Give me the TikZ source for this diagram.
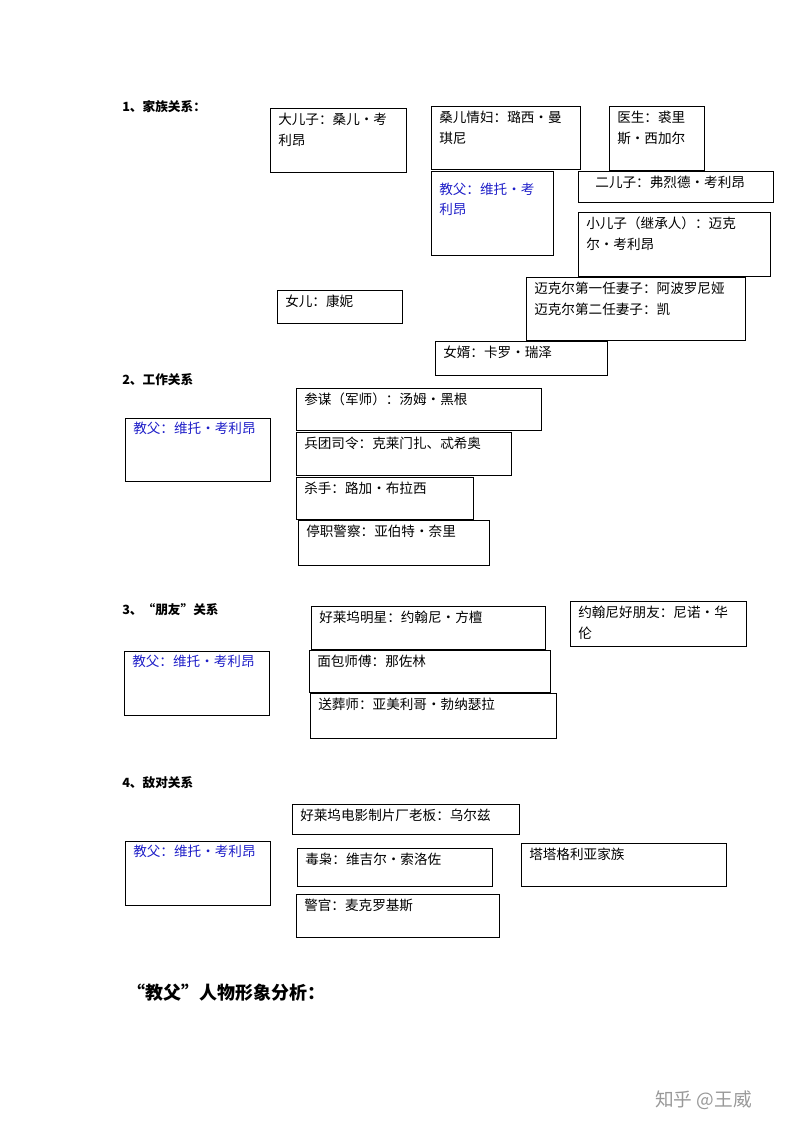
\documentclass[tikz,border=0pt]{standalone}
\usepackage{fontspec}
\setmainfont{Noto Sans CJK SC}
\begin{document}
\begin{tikzpicture}[x=0.75pt,y=-0.75pt,
  frame/.style={draw=black,line width=0.6pt},
  txt/.style={anchor=north west,inner sep=0pt,align=left,font=\fontsize{10.2pt}{15.5pt}\selectfont},
  gf/.style={txt,text={rgb,255:red,30;green,30;blue,200}},
  sec/.style={anchor=west,inner sep=0pt,font=\fontsize{9.5pt}{12pt}\selectfont\bfseries}]
\useasboundingbox (0,0) rectangle (800,1132);
\newcommand\bx[7][txt]{\draw[frame] (#3,#4) rectangle (#5,#6);
  \node[#1] (#2) at (#3+8,#4+5) {#7};}
\node[sec] (s1) at (122,107) {1、家族关系：};
\bx{a}{270}{108}{406}{172}{大儿子：桑儿•考\\利昂}
\bx{b}{431}{106}{580}{169}{桑儿情妇：璐西•曼\\琪尼}
\bx{c}{609}{106}{704}{170}{医生：裘里\\斯•西加尔}
\bx[gf]{d}{431}{171}{553}{255}{\\[-2pt]教父：维托•考\\利昂}
\bx{e}{578}{171}{773}{202}{\ \ \ 二儿子：弗烈德•考利昂}
\bx{f}{578}{212}{770}{276}{小儿子（继承人）：迈克\\尔•考利昂}
\bx{g}{526}{277}{745}{340}{迈克尔第一任妻子：阿波罗尼娅\\迈克尔第二任妻子：凯}
\bx{h}{277}{290}{402}{323}{女儿：康妮}
\bx{i}{435}{341}{607}{375}{女婿：卡罗•瑞泽}
\node[sec] (s2) at (122,380) {2、工作关系};
\bx[gf]{j}{125}{418}{270}{481}{\\[-8pt]教父：维托•考利昂}
\bx{k}{296}{388}{541}{430}{参谋（军师）：汤姆•黑根}
\bx{l}{296}{432}{511}{475}{兵团司令：克莱门扎、忒希奥}
\bx{m}{296}{477}{473}{519}{杀手：路加•布拉西}
\bx{n}{298}{520}{489}{565}{停职警察：亚伯特•奈里}
\node[sec] (s3) at (122,610) {3、“朋友”关系};
\bx{o}{311}{606}{545}{649}{好莱坞明星：约翰尼•方檀}
\bx{p}{570}{601}{746}{646}{约翰尼好朋友：尼诺•华\\伦}
\bx[gf]{q}{124}{651}{269}{715}{\\[-8pt]教父：维托•考利昂}
\bx{r}{309}{650}{550}{692}{面包师傅：那佐林}
\bx{s}{310}{693}{556}{738}{送葬师：亚美利哥•勃纳瑟拉}
\node[sec] (s4) at (122,783) {4、敌对关系};
\bx{t}{292}{804}{519}{834}{好莱坞电影制片厂老板：乌尔兹}
\bx[gf]{u}{125}{841}{270}{905}{\\[-8pt]教父：维托•考利昂}
\bx{v}{297}{848}{492}{886}{毒枭：维吉尔•索洛佐}
\bx{w}{521}{843}{726}{886}{塔塔格利亚家族}
\bx{x}{296}{894}{499}{937}{警官：麦克罗基斯}
\node[anchor=west,inner sep=0pt,font=\fontsize{13.5pt}{16pt}\selectfont\bfseries] (hd) at (127,993) {“教父”人物形象分析：};
\node[anchor=west,inner sep=0pt,text=black!40,font=\fontsize{14pt}{16pt}\selectfont] (wm) at (655,1100) {知乎 @王威};
\end{tikzpicture}
\end{document}
